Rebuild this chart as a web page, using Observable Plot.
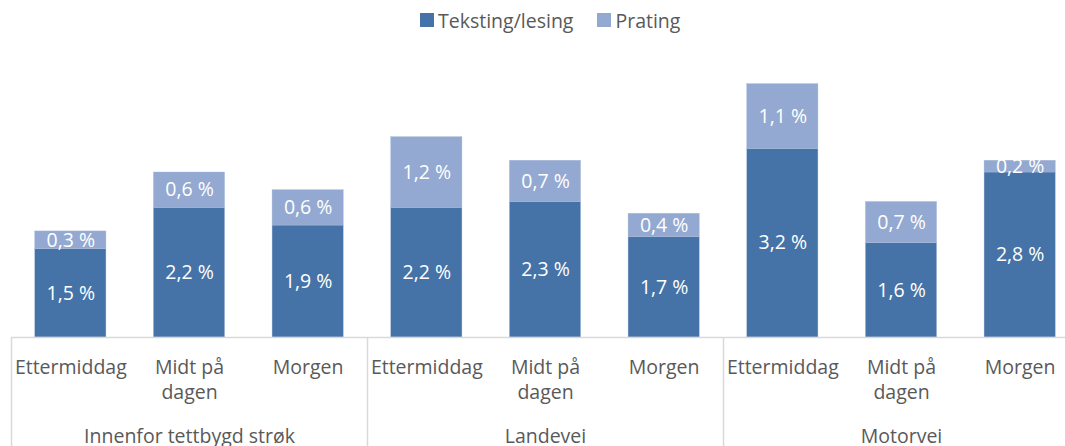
<!DOCTYPE html>
<html><head><meta charset="utf-8">
<script src="https://cdn.jsdelivr.net/npm/d3@7"></script>
<script src="https://cdn.jsdelivr.net/npm/@observablehq/plot@0.6"></script>
<style>
body{margin:0;background:#fff;font-family:"Open Sans",sans-serif;}
#wrap{position:relative;width:1065px;height:446px;overflow:hidden;background:#fff}
#legend{position:absolute;left:420px;top:0px;height:40px;display:flex;align-items:center;font-size:19.5px;color:#595959;white-space:nowrap}
.sw{width:14px;height:14px;display:inline-block;margin-right:4px}
.item{display:flex;align-items:center;margin-right:24px}
#plot{position:absolute;left:0;top:40px}
</style></head>
<body><div id="wrap"><div id="legend"></div><div id="plot"></div></div>
<script>
const groups = ["Innenfor tettbygd strøk", "Landevei", "Motorvei"];
const periods = ["Ettermiddag", "Midt på dagen", "Morgen"];
const series = ["Teksting/lesing", "Prating"];
const colors = ["#4573a7", "#93a9d1"];
const teksting = [1.5, 2.2, 1.9, 2.2, 2.3, 1.7, 3.2, 1.6, 2.8];
const prating  = [0.3, 0.6, 0.6, 1.2, 0.7, 0.4, 1.1, 0.7, 0.2];

const keys = [];
const data = [];
groups.forEach((g, gi) => periods.forEach((p, pi) => {
  const i = gi * periods.length + pi;
  const key = g + "|" + p;
  keys.push(key);
  data.push({key, group: g, period: p, series: series[0], value: teksting[i]});
  data.push({key, group: g, period: p, series: series[1], value: prating[i]});
}));
const midKeys = groups.map(g => g + "|" + periods[1]);
const firstKeys = groups.map(g => g + "|" + periods[0]);
const fmt = v => v.toFixed(1).replace(".", ",") + " %";
const grey = "#595959";
const lineGrey = "#d9d9d9";

// legend
const leg = document.getElementById("legend");
series.forEach((s, i) => {
  const it = document.createElement("div");
  it.className = "item";
  it.innerHTML = `<span class="sw" style="background:${colors[i]}"></span><span>${s}</span>`;
  leg.appendChild(it);
});

const W = 1065, H = 406, MB = 109;
const separators = (index, scales, values, dims) => {
  const x = scales.x;
  const bw = typeof x.bandwidth === "function" ? x.bandwidth() : 0;
  const step = typeof x.step === "function" ? x.step() : bw;
  const g = d3.create("svg:g");
  firstKeys.forEach(k => {
    const xe = Math.round(x(k) - (step - bw) / 2) + 0.5;
    g.append("line").attr("x1", xe).attr("x2", xe)
      .attr("y1", dims.height - dims.marginBottom).attr("y2", dims.height)
      .attr("stroke", lineGrey).attr("stroke-width", 1.5);
  });
  return g.node();
};

const chart = Plot.plot({
  width: W, height: H,
  marginLeft: 11, marginRight: 0, marginTop: 0, marginBottom: MB,
  style: {fontFamily: "'Open Sans', sans-serif", fontSize: "19.5px", color: grey, background: "white", overflow: "visible"},
  x: {domain: keys, range: [11, 1079], paddingInner: 0.4, paddingOuter: 0.2, round: false, axis: null, label: null},
  y: {domain: [0, 5.04], axis: null},
  color: {domain: series, range: colors},
  marks: [
    Plot.barY(data, {x: "key", y: "value", fill: "series", stroke: "#a8bbdc", strokeWidth: 0.4}),
    Plot.text(data, Plot.stackY({x: "key", y: "value", z: "series", text: d => fmt(d.value), fill: "white", fontSize: 19.5})),
    Plot.ruleY([0], {stroke: lineGrey, strokeWidth: 1.5}),
    Plot.axisX({tickSize: 0, tickPadding: 18, lineHeight: 1.3, fontSize: 19.5, fill: grey, label: null,
      tickFormat: k => k.split("|")[1].replace("på ", "på\n")}),
    Plot.axisX(midKeys, {tickSize: 0, tickPadding: 92, fontSize: 19.5, fill: grey, label: null,
      tickFormat: k => k.split("|")[0]}),
    separators
  ]
});
document.getElementById("plot").appendChild(chart);
</script>
</body></html>
